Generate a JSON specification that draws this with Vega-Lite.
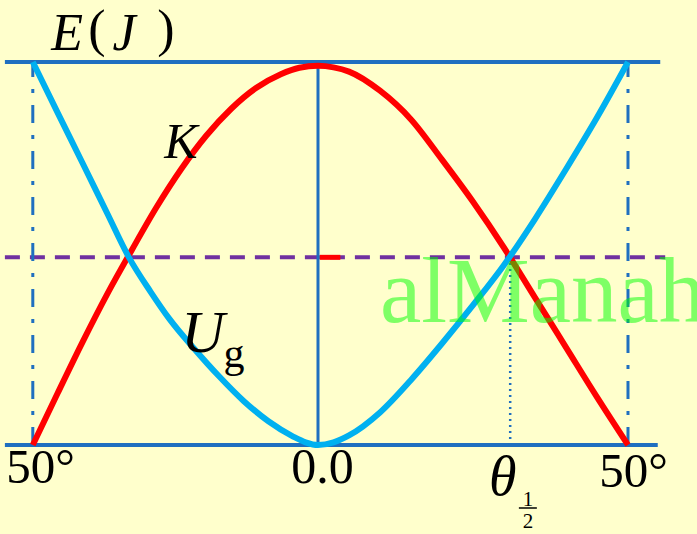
{
  "$schema": "https://vega.github.io/schema/vega-lite/v6.json",
  "width": 697,
  "height": 534,
  "autosize": {"type": "fit", "contains": "padding"},
  "padding": 0,
  "background": "#FFFFCC",
  "config": {"view": {"stroke": null}},
  "datasets": {
    "K": [
      {"x": -46.0, "y": 0.0}, {"x": -42.0, "y": 0.135}, {"x": -38.0, "y": 0.268},
      {"x": -34.0, "y": 0.394}, {"x": -30.0, "y": 0.51}, {"x": -26.0, "y": 0.622},
      {"x": -22.0, "y": 0.722}, {"x": -18.0, "y": 0.808}, {"x": -14.0, "y": 0.878},
      {"x": -10.0, "y": 0.932}, {"x": -6.0, "y": 0.968}, {"x": -3.0, "y": 0.985},
      {"x": 0.0, "y": 0.99}, {"x": 2.5, "y": 0.986}, {"x": 5.0, "y": 0.975},
      {"x": 10.0, "y": 0.925}, {"x": 15.0, "y": 0.85}, {"x": 20.0, "y": 0.745},
      {"x": 25.0, "y": 0.635}, {"x": 30.0, "y": 0.515}, {"x": 35.0, "y": 0.385},
      {"x": 40.0, "y": 0.255}, {"x": 45.0, "y": 0.125}, {"x": 50.0, "y": 0.0}
    ],
    "Ug": [
      {"x": -46.0, "y": 1.0}, {"x": -42.0, "y": 0.868}, {"x": -38.0, "y": 0.737},
      {"x": -34.0, "y": 0.605}, {"x": -30.5, "y": 0.49}, {"x": -27.0, "y": 0.4},
      {"x": -24.0, "y": 0.33}, {"x": -20.0, "y": 0.252}, {"x": -16.0, "y": 0.18},
      {"x": -12.0, "y": 0.115}, {"x": -8.0, "y": 0.062}, {"x": -4.0, "y": 0.022},
      {"x": -2.0, "y": 0.007}, {"x": 0.0, "y": 0.0}, {"x": 2.5, "y": 0.007},
      {"x": 5.0, "y": 0.025}, {"x": 10.0, "y": 0.085}, {"x": 15.0, "y": 0.17},
      {"x": 20.0, "y": 0.265}, {"x": 25.0, "y": 0.365}, {"x": 30.0, "y": 0.47},
      {"x": 35.0, "y": 0.59}, {"x": 40.0, "y": 0.72}, {"x": 45.0, "y": 0.855},
      {"x": 50.0, "y": 1.0}
    ],
    "hlines": [
      {"x": -50.5, "x2": 55.2, "y": 1.0},
      {"x": -50.5, "x2": 54.8, "y": 0.0}
    ],
    "dashdot": [
      {"x": -46.0, "y": 0.0, "y2": 1.0},
      {"x": 50.0, "y": 0.0, "y2": 1.0}
    ],
    "center": [{"x": 0.0, "y": 0.0, "y2": 1.0}],
    "dotted": [{"x": 31.0, "y": 0.0, "y2": 0.49}],
    "half": [{"x": -50.5, "x2": 56.0, "y": 0.49}],
    "redtick": [{"x": 0.3, "x2": 3.6, "y": 0.49}],
    "fracbar": [{"x": 32.4, "x2": 35.3, "y": -0.1645}],
    "italic": [
      {"x": -40.48, "y": 1.0313, "t": "E", "s": 52},
      {"x": -31.29, "y": 1.0313, "t": "J", "s": 52},
      {"x": -22.1, "y": 0.7493, "t": "K", "s": 50},
      {"x": -18.55, "y": 0.2428, "t": "U", "s": 60},
      {"x": 29.8, "y": -0.1305, "t": "θ", "s": 56}
    ],
    "normal": [
      {"x": -35.65, "y": 1.0418, "t": "(", "s": 52},
      {"x": -24.52, "y": 1.0418, "t": ")", "s": 52},
      {"x": -13.55, "y": 0.2037, "t": "g", "s": 42},
      {"x": -44.76, "y": -0.0992, "t": "50°", "s": 49},
      {"x": 0.73, "y": -0.0992, "t": "0.0", "s": 50},
      {"x": 50.89, "y": -0.1097, "t": "50°", "s": 49},
      {"x": 33.87, "y": -0.159, "t": "1", "s": 21},
      {"x": 33.87, "y": -0.2166, "t": "2", "s": 21}
    ],
    "wm": [{"x": 10.0, "y": 0.3211, "t": "alManah"}]
  },
  "layer": [
    {
      "data": {"name": "half"},
      "mark": {"type": "rule", "color": "#7030A0", "strokeWidth": 4, "strokeDash": [15, 10]},
      "encoding": {
        "x": {"field": "x", "type": "quantitative", "scale": {"domain": [-51.29, 61.13], "nice": false, "zero": false}, "axis": null},
        "x2": {"field": "x2"},
        "y": {"field": "y", "type": "quantitative", "scale": {"domain": [-0.2324, 1.1619], "nice": false, "zero": false}, "axis": null}
      }
    },
    {
      "data": {"name": "hlines"},
      "mark": {"type": "rule", "color": "#1F6FC0", "strokeWidth": 4},
      "encoding": {
        "x": {"field": "x", "type": "quantitative"},
        "x2": {"field": "x2"},
        "y": {"field": "y", "type": "quantitative"}
      }
    },
    {
      "data": {"name": "dashdot"},
      "mark": {"type": "rule", "color": "#1F6FC0", "strokeWidth": 3, "strokeDash": [18, 12, 4, 12]},
      "encoding": {
        "x": {"field": "x", "type": "quantitative"},
        "y": {"field": "y", "type": "quantitative"},
        "y2": {"field": "y2"}
      }
    },
    {
      "data": {"name": "dotted"},
      "mark": {"type": "rule", "color": "#1F6FC0", "strokeWidth": 2.5, "strokeDash": [2, 4]},
      "encoding": {
        "x": {"field": "x", "type": "quantitative"},
        "y": {"field": "y", "type": "quantitative"},
        "y2": {"field": "y2"}
      }
    },
    {
      "data": {"name": "center"},
      "mark": {"type": "rule", "color": "#1F6FC0", "strokeWidth": 3},
      "encoding": {
        "x": {"field": "x", "type": "quantitative"},
        "y": {"field": "y", "type": "quantitative"},
        "y2": {"field": "y2"}
      }
    },
    {
      "data": {"name": "redtick"},
      "mark": {"type": "rule", "color": "#FF0000", "strokeWidth": 5},
      "encoding": {
        "x": {"field": "x", "type": "quantitative"},
        "x2": {"field": "x2"},
        "y": {"field": "y", "type": "quantitative"}
      }
    },
    {
      "data": {"name": "K"},
      "mark": {"type": "line", "color": "#FF0000", "strokeWidth": 6, "interpolate": "monotone"},
      "encoding": {
        "x": {"field": "x", "type": "quantitative"},
        "y": {"field": "y", "type": "quantitative"}
      }
    },
    {
      "data": {"name": "Ug"},
      "mark": {"type": "line", "color": "#00B0F0", "strokeWidth": 6, "interpolate": "monotone"},
      "encoding": {
        "x": {"field": "x", "type": "quantitative"},
        "y": {"field": "y", "type": "quantitative"}
      }
    },
    {
      "data": {"name": "fracbar"},
      "mark": {"type": "rule", "color": "#000000", "strokeWidth": 1.5},
      "encoding": {
        "x": {"field": "x", "type": "quantitative"},
        "x2": {"field": "x2"},
        "y": {"field": "y", "type": "quantitative"}
      }
    },
    {
      "data": {"name": "italic"},
      "mark": {"type": "text", "font": "Liberation Serif", "fontStyle": "italic", "align": "center", "baseline": "alphabetic", "color": "#000000"},
      "encoding": {
        "x": {"field": "x", "type": "quantitative"},
        "y": {"field": "y", "type": "quantitative"},
        "text": {"field": "t"},
        "size": {"field": "s", "type": "quantitative", "scale": null}
      }
    },
    {
      "data": {"name": "normal"},
      "mark": {"type": "text", "font": "Liberation Serif", "align": "center", "baseline": "alphabetic", "color": "#000000"},
      "encoding": {
        "x": {"field": "x", "type": "quantitative"},
        "y": {"field": "y", "type": "quantitative"},
        "text": {"field": "t"},
        "size": {"field": "s", "type": "quantitative", "scale": null}
      }
    },
    {
      "data": {"name": "wm"},
      "mark": {"type": "text", "font": "Liberation Serif", "align": "left", "baseline": "alphabetic", "fontSize": 93, "color": "#00FF00", "opacity": 0.5, "clip": true},
      "encoding": {
        "x": {"field": "x", "type": "quantitative"},
        "y": {"field": "y", "type": "quantitative"},
        "text": {"field": "t"}
      }
    }
  ]
}
